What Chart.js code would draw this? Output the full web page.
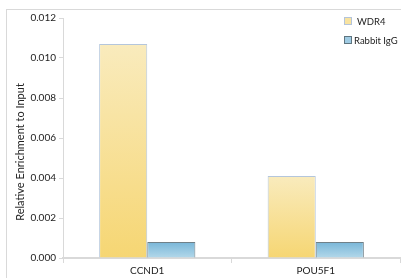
<!DOCTYPE html>
<html>
<head>
<meta charset="utf-8">
<script src="https://cdn.jsdelivr.net/npm/chart.js@4.4.0/dist/chart.umd.min.js"></script>
<style>
  html, body { margin: 0; padding: 0; background: #fff; }
  #wrap { width: 401px; height: 278px; position: relative; }
</style>
</head>
<body>
<div id="wrap"><canvas id="chart" width="401" height="278"></canvas></div>
<script>
var categories = ["CCND1", "POU5F1"];
var seriesNames = ["WDR4", "Rabbit IgG"];
var wdr4Values = [0.0107, 0.0041];
var iggValues = [0.0008, 0.0008];
var yTicks = [0, 0.002, 0.004, 0.006, 0.008, 0.010, 0.012];
var yTitle = "Relative Enrichment to Input";

var FONT = "Lato";

// per-bar vertical gradient
function barGradient(topColor, bottomColor) {
    return function(ctx) {
        var chart = ctx.chart;
        if (!chart.chartArea || ctx.type !== 'data') return bottomColor;
        var y = chart.scales.y;
        var v = ctx.raw;
        var yTop = y.getPixelForValue(v);
        var yBot = y.getPixelForValue(0);
        if (!isFinite(yTop) || yTop === yBot) return bottomColor;
        var g = chart.ctx.createLinearGradient(0, yTop, 0, yBot);
        g.addColorStop(0, topColor);
        g.addColorStop(1, bottomColor);
        return g;
    };
}

var legendColors = [
    { fill: "#f8e3a0", stroke: "#b4c4da" },
    { fill: "#9fcbe3", stroke: "#5f7580" }
];

var framePlugin = {
    id: 'frame',
    beforeDraw: function(chart) {
        var c = chart.ctx;
        c.save();
        c.strokeStyle = "#d9d9d9";
        c.lineWidth = 1;
        c.strokeRect(6.5, 9.5, 600, 600);
        c.restore();
    },
    afterDraw: function(chart) {
        var c = chart.ctx;
        c.save();
        // y axis title, sits a bit below the axis centre like the original
        c.font = "11px " + FONT;
        c.fillStyle = "#222";
        c.textAlign = "center";
        c.textBaseline = "middle";
        c.translate(20, 152);
        c.rotate(-Math.PI / 2);
        c.fillText(yTitle, 0, 0);
        c.restore();

        c.save();
        c.font = "9.5px " + FONT;
        c.textBaseline = "middle";
        c.textAlign = "left";
        chart.data.datasets.forEach(function(ds, i) {
            var y = 21 + i * 19;
            c.fillStyle = legendColors[i].fill;
            c.strokeStyle = legendColors[i].stroke;
            c.lineWidth = 1;
            c.fillRect(344.5, y - 3.5, 7, 7);
            c.strokeRect(344.5, y - 3.5, 7, 7);
            c.fillStyle = "#222";
            c.fillText(ds.label, i === 0 ? 357 : 354, y + 0.5);
        });
        c.restore();
    }
};

var ctx = document.getElementById("chart");

var chart = new Chart(ctx, {
    type: 'bar',
    data: {
        labels: categories,
        datasets: [{
            label: seriesNames[0],
            data: wdr4Values,
            backgroundColor: barGradient("#f9ebbd", "#f6d673"),
            borderColor: "#b4c6dc",
            borderWidth: 1,
            categoryPercentage: 0.571,
            barPercentage: 1.0
        }, {
            label: seriesNames[1],
            data: iggValues,
            backgroundColor: barGradient("#78b6d8", "#b3d8ea"),
            borderColor: "#6f8088",
            borderWidth: 1,
            categoryPercentage: 0.571,
            barPercentage: 1.0
        }]
    },
    options: {
        responsive: false,
        animation: false,
        layout: { padding: { top: 18, right: 1, left: 0, bottom: 0 } },
        plugins: {
            legend: { display: false },
            tooltip: { enabled: false }
        },
        scales: {
            x: {
                grid: {
                    display: true,
                    drawOnChartArea: false,
                    offset: true,
                    color: "#d9d9d9",
                    tickLength: 5,
                    tickColor: "#d9d9d9"
                },
                border: { color: "#d9d9d9", width: 2 },
                ticks: {
                    color: "#222",
                    font: { family: FONT, size: 10 },
                    padding: 2
                },
                afterFit: function(scale) { scale.height = 20; }
            },
            y: {
                min: 0,
                max: 0.012,
                afterBuildTicks: function(scale) {
                    scale.ticks = yTicks.map(function(v) { return { value: v }; });
                },
                grid: {
                    display: true,
                    drawOnChartArea: false,
                    color: "#d9d9d9",
                    tickLength: 4,
                    tickColor: "#d9d9d9"
                },
                border: { color: "#d9d9d9", width: 1 },
                ticks: {
                    color: "#222",
                    font: { family: FONT, size: 10 },
                    padding: 3,
                    callback: function(v) { return v.toFixed(3); }
                },
                afterFit: function(scale) { scale.width = 63; }
            }
        }
    },
    plugins: [framePlugin]
});
</script>
</body>
</html>
